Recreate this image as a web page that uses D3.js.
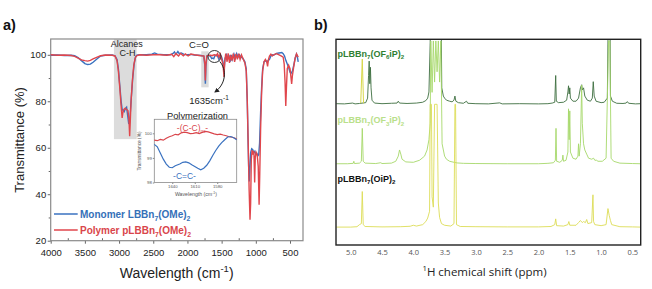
<!DOCTYPE html>
<html><head><meta charset="utf-8">
<script src="https://cdn.jsdelivr.net/npm/d3@7"></script>
<style>body{margin:0;background:#fff}svg{display:block}</style>
</head><body><svg id="c" width="652" height="289"></svg>
<script>
// ---------- Panel a: FTIR data ----------
const ftirXTicks = [4000,3500,3000,2500,2000,1500,1000,500];
const ftirYTicks = [20,40,60,80,100];
const ftirLegend = ["Monomer LBBn", "Polymer pLBBn"];
const monomerSpectrum = [
[4000,99.8],[3900,99.9],[3800,99.7],[3700,99.8],[3650,99.6],[3600,98.8],[3550,97.5],[3500,96.2],[3460,95.8],[3420,96.0],[3380,96.8],[3320,98.3],[3270,99.5],[3200,99.8],[3100,99.9],[3060,99.6],[3030,98],[3010,94],[2990,87],[2970,80],[2955,76.5],[2940,76],[2925,75.5],[2905,77],[2890,77.5],[2875,74],[2860,70.5],[2850,70.3],[2838,74],[2820,82],[2800,90],[2780,96],[2760,99],[2740,99.8],[2700,100],[2600,100],[2520,100.3],[2480,100.8],[2440,100.3],[2350,100],[2250,100],[2210,100.6],[2190,101.2],[2170,100.2],[2140,101.4],[2120,100.5],[2090,100.8],[2050,100.2],[2000,100],[1950,100.2],[1900,99.9],[1850,99.8],[1800,99.7],[1760,99.4],[1745,95],[1738,87.5],[1730,95],[1715,99.5],[1690,99.8],[1660,99.2],[1645,98.4],[1630,98.6],[1615,98.3],[1600,99.5],[1580,100],[1560,99.5],[1540,98],[1520,100],[1500,99],[1480,97],[1465,93],[1450,98.5],[1430,100],[1410,98],[1395,100],[1375,97],[1360,100],[1345,98],[1320,100.3],[1300,98.5],[1280,100.5],[1260,99],[1240,100],[1215,99],[1190,98.5],[1160,97],[1140,94],[1125,80],[1115,65],[1105,52],[1096,45.5],[1088,50],[1075,58],[1060,59.6],[1045,59.2],[1030,58],[1015,58.5],[1000,57],[985,57.5],[970,56.5],[958,57],[945,62],[930,75],[915,86],[900,94],[880,97],[860,97.5],[840,97],[820,97.5],[800,98],[780,99.5],[760,100],[740,99.8],[700,100.6],[660,100.8],[620,101],[600,100.5],[580,99.5],[560,97.5],[540,96],[520,94.5],[500,92.5],[485,92],[465,93],[445,95.5],[425,98.5],[405,100.3],[392,99],[380,97]
];
const polymerSpectrum = [
[4000,100],[3900,99.8],[3800,99.9],[3700,99.7],[3650,99.3],[3600,98.6],[3550,97.8],[3500,97.5],[3460,97.3],[3420,97.6],[3380,98.2],[3320,99],[3270,99.6],[3200,99.9],[3100,99.8],[3060,99.5],[3030,97.5],[3010,93],[2990,86],[2970,78],[2955,72.8],[2945,75],[2930,76.5],[2910,77],[2890,76.5],[2870,76],[2855,72],[2845,65],[2838,70],[2825,80],[2805,89],[2785,95.5],[2765,98.5],[2745,99.6],[2700,100],[2600,99.8],[2500,100],[2400,100],[2300,99.8],[2230,100.2],[2200,99.2],[2170,100.5],[2130,99.5],[2100,100.6],[2060,99.6],[2030,100.4],[1990,99.5],[1950,100.3],[1900,100],[1850,99.8],[1800,99.6],[1760,99.5],[1745,96],[1738,89],[1730,96],[1715,99.5],[1690,99.8],[1660,99.8],[1640,99.6],[1620,99.9],[1600,100],[1580,99.5],[1560,100.5],[1540,99],[1520,100.3],[1500,98],[1480,96],[1465,90.5],[1455,97],[1440,100.5],[1420,97],[1405,100.6],[1385,96.5],[1370,100],[1350,97.5],[1330,100.5],[1310,97],[1290,100.4],[1270,98],[1250,100.5],[1230,98],[1210,100],[1190,98.5],[1160,96.5],[1140,93],[1125,80],[1110,60],[1098,42],[1085,29],[1076,36],[1066,55],[1055,59],[1040,57],[1028,58.5],[1017,45],[1008,56],[995,58],[980,57],[965,52],[952,35.5],[943,48],[930,68],[915,84],[900,93],[880,97],[860,98],[840,97],[828,95],[815,98],[800,99.5],[780,100.3],[760,99.5],[740,100],[700,100.5],[660,100],[630,99.5],[600,99],[585,96],[572,88],[562,78],[552,86],[540,94],[520,95.5],[500,94],[485,90],[476,87.5],[465,91],[445,95],[425,98.5],[405,100.4],[390,99.6],[380,99]
];
const insetXTicks = [1640,1610,1580];
const insetYTicks = [98,99,100];
const insetMonomer = [[1664,99.55],[1660,99.45],[1656,99.2],[1652,98.95],[1648,98.75],[1644,98.62],[1640,98.6],[1636,98.68],[1630,98.75],[1626,98.82],[1622,98.84],[1618,98.8],[1614,98.72],[1610,98.65],[1606,98.58],[1602,98.52],[1598,98.58],[1594,98.7],[1590,98.88],[1586,99.1],[1582,99.3],[1578,99.48],[1574,99.62],[1570,99.74],[1566,99.85],[1562,99.87],[1558,99.82],[1554,99.74]];
const insetPolymer = [[1664,99.72],[1660,99.7],[1656,99.75],[1652,99.72],[1648,99.8],[1644,99.86],[1640,99.9],[1636,99.96],[1632,99.94],[1628,100.02],[1624,100.05],[1620,100.03],[1616,99.99],[1612,100.0],[1608,100.03],[1604,99.99],[1600,100.04],[1596,100.08],[1592,100.06],[1588,100.02],[1584,99.98],[1580,99.95],[1576,99.97],[1572,99.93],[1568,99.9],[1564,99.86],[1560,99.84],[1556,99.8],[1554,99.76]];
const alcaneBand = [3075, 2743, 63.7];
const carbonylBand = [1798, 1690, 86, 101.5];

// ---------- Panel b: NMR data ----------
const nmrTicks = [5.0,4.5,4.0,3.5,3.0,2.5,2.0,1.5,1.0,0.5];
const nmrOffsets = [68.4, 39.2, 8.4];
const nmrTop = [[5.23,0.3],[5.1,0.2],[4.97,0.6],[4.93,0.2],[4.86,0.4],[4.76,0.8],[4.73,3],[4.715,14],[4.705,21],[4.695,10],[4.685,18],[4.675,8],[4.66,2],[4.62,0.6],[4.5,0.3],[4.35,0.5],[4.26,0.6],[4.24,1.5],[4.22,0.6],[4.1,0.4],[3.95,0.6],[3.85,1],[3.8,1.8],[3.77,3],[3.75,6],[3.73,30],[3.72,60],[3.70,40],[3.68,60],[3.66,45],[3.64,60],[3.62,50],[3.60,60],[3.58,45],[3.56,60],[3.545,8],[3.52,4],[3.5,3],[3.47,2],[3.42,1.5],[3.38,1.2],[3.35,2],[3.335,4],[3.32,1.5],[3.28,0.8],[3.2,0.5],[3.15,1.5],[3.13,0.5],[3.0,0.3],[2.8,0.2],[2.62,0.7],[2.58,0.2],[2.3,0.3],[2.0,0.2],[1.85,0.3],[1.78,0.6],[1.74,1],[1.725,14],[1.715,1.5],[1.68,0.8],[1.6,1],[1.55,2],[1.53,6],[1.52,9],[1.51,5],[1.5,8],[1.49,3],[1.45,1.5],[1.4,1.5],[1.36,3],[1.33,8],[1.31,9.5],[1.3,7],[1.28,8],[1.26,4],[1.22,2],[1.17,1.5],[1.14,3],[1.125,11],[1.11,4],[1.08,1.5],[1.0,0.8],[0.95,1],[0.9,3],[0.88,60],[0.86,60],[0.85,4],[0.82,1.5],[0.75,0.5],[0.65,0.4],[0.6,0.6],[0.58,1.3],[0.56,0.5],[0.45,0.2],[0.37,0.3]];
const nmrTopYellow = [[4.84,0.5],[4.815,22],[4.795,0.5]];
const nmrMid = [[5.23,0.3],[5.05,0.3],[4.96,0.5],[4.95,1.5],[4.94,0.4],[4.86,0.6],[4.83,1.5],[4.815,17.5],[4.80,1.5],[4.77,0.6],[4.6,0.4],[4.52,0.8],[4.5,0.4],[4.35,0.6],[4.28,1.5],[4.24,4],[4.22,7],[4.2,5],[4.18,2.5],[4.12,1.2],[4.0,1],[3.9,2],[3.82,4],[3.78,7],[3.75,12],[3.73,20],[3.72,60],[3.70,35],[3.68,60],[3.66,40],[3.64,60],[3.62,45],[3.60,60],[3.58,40],[3.56,60],[3.54,10],[3.5,4],[3.47,2.5],[3.42,1.5],[3.35,1],[3.3,0.7],[3.2,0.5],[3.0,0.4],[2.5,0.3],[2.0,0.3],[1.85,0.5],[1.76,0.8],[1.73,2],[1.72,17.5],[1.71,1.5],[1.66,1],[1.62,2],[1.61,4.5],[1.6,1.5],[1.56,2],[1.53,6],[1.52,27],[1.51,12],[1.50,26],[1.49,6],[1.45,3],[1.40,2.5],[1.37,4],[1.36,10],[1.35,4],[1.33,10],[1.31,38.5],[1.30,20],[1.28,10],[1.26,7],[1.23,5],[1.2,3],[1.15,2.5],[1.12,3],[1.1,2],[1.07,2],[1.05,1.5],[0.98,1.5],[0.92,3],[0.88,60],[0.86,60],[0.84,3],[0.8,1.5],[0.7,0.6],[0.5,0.4],[0.37,0.3]];
const nmrBot = [[5.23,0.3],[5.0,0.3],[4.9,0.5],[4.86,1.5],[4.83,2],[4.815,17.6],[4.80,1.5],[4.77,0.6],[4.5,0.4],[4.2,0.5],[4.05,0.7],[4.0,1.2],[3.95,0.8],[3.85,1.5],[3.8,3],[3.77,4.7],[3.74,8],[3.73,60],[3.71,60],[3.70,15],[3.68,10],[3.66,60],[3.62,60],[3.6,12],[3.58,5],[3.55,2],[3.5,1.2],[3.4,0.8],[3.35,2],[3.335,60],[3.325,60],[3.31,1.5],[3.25,0.6],[3.0,0.5],[2.5,0.4],[2.0,0.4],[1.8,0.6],[1.74,1.5],[1.725,4.3],[1.71,1],[1.6,0.8],[1.53,1.5],[1.515,3],[1.5,1.2],[1.4,1.2],[1.36,2.5],[1.33,3.5],[1.3,2.5],[1.28,3],[1.25,2.5],[1.23,4],[1.21,2],[1.15,2.5],[1.13,16],[1.12,3],[1.1,1.5],[1.0,1],[0.92,1.5],[0.89,9.3],[0.87,6],[0.85,3.5],[0.83,1.5],[0.7,0.5],[0.5,0.4],[0.37,0.3]];

// ---------- helpers ----------
const svg = d3.select("#c");
function rich(g, x, y, parts, fs, attrs) {
  const t = g.append("text").attr("x", x).attr("y", y).attr("font-size", fs);
  Object.entries(attrs || {}).forEach(([k, v]) => t.attr(k, v));
  let prev = 0;
  parts.forEach(p => {
    const mode = Array.isArray(p) ? p[1] : 0, txt = Array.isArray(p) ? p[0] : p;
    const shift = mode === 1 ? fs * 0.3 : mode === -1 ? -fs * 0.42 : 0;
    const s = t.append("tspan").attr("dy", shift - prev).text(txt);
    if (mode) s.attr("font-size", fs * 0.68);
    prev = shift;
  });
  return t;
}
const intFmt = d3.format("d");

// ================= Panel a =================
const A = svg.append("g").attr("font-family", "Liberation Sans, Arial, sans-serif");
const x = d3.scaleLinear().domain([4000, 310]).range([50.7, 303]);
const y = d3.scaleLinear().domain([20, 106.8]).range([240.7, 39]);

A.append("rect").attr("x", x(alcaneBand[0])).attr("y", y(106.8))
  .attr("width", x(alcaneBand[1]) - x(alcaneBand[0])).attr("height", y(alcaneBand[2]) - y(106.8)).attr("fill", "#dcdcdc");
A.append("rect").attr("x", x(carbonylBand[0])).attr("y", y(carbonylBand[3]))
  .attr("width", x(carbonylBand[1]) - x(carbonylBand[0])).attr("height", y(carbonylBand[2]) - y(carbonylBand[3])).attr("fill", "#dcdcdc");

const xAx = A.append("g").attr("transform", "translate(0,240.7)")
  .call(d3.axisBottom(x).tickValues(ftirXTicks).tickSize(3).tickPadding(6).tickFormat(intFmt));
const xMin = A.append("g").attr("transform", "translate(0,240.7)")
  .call(d3.axisBottom(x).tickValues(ftirXTicks.slice(0,-1).map(v => v - 250)).tickSize(-2.5).tickFormat(""));
const yAx = A.append("g").attr("transform", "translate(50.7,0)")
  .call(d3.axisLeft(y).tickValues(ftirYTicks).tickSize(3).tickPadding(1.5).tickFormat(intFmt));
const yMin = A.append("g").attr("transform", "translate(50.7,0)")
  .call(d3.axisLeft(y).tickValues([30,50,70,90]).tickSize(2).tickFormat(""));
[xAx, xMin, yAx, yMin].forEach(g => { g.select(".domain").remove(); g.selectAll("line").attr("stroke", "#666"); });
[xAx, yAx].forEach(g => g.selectAll("text").attr("font-size", 9.5).attr("fill", "#222").attr("font-family", "Liberation Sans, Arial, sans-serif"));

A.append("rect").attr("x", 50.7).attr("y", 39).attr("width", 303 - 50.7).attr("height", 240.7 - 39)
  .attr("fill", "none").attr("stroke", "#8a8a8a").attr("stroke-width", 1.2);

const line = d3.line().x(d => x(d[0])).y(d => y(d[1]));
A.append("path").datum(monomerSpectrum).attr("d", line).attr("fill", "none").attr("stroke", "#3a72c0").attr("stroke-width", 1.4);
A.append("path").datum(polymerSpectrum).attr("d", line).attr("fill", "none").attr("stroke", "#e0464c").attr("stroke-width", 1.4);

// annotations
A.append("text").attr("x", 126.7).attr("y", 46.5).attr("text-anchor", "middle").attr("font-size", 9).attr("fill", "#222").text("Alcanes");
A.append("text").attr("x", 127.5).attr("y", 56).attr("text-anchor", "middle").attr("font-size", 9).attr("fill", "#222").text("C-H");
A.append("text").attr("x", 199).attr("y", 47.5).attr("text-anchor", "middle").attr("font-size", 9.5).attr("fill", "#222").text("C=O");
A.append("ellipse").attr("cx", 214.5).attr("cy", 56.5).attr("rx", 6.5).attr("ry", 6).attr("fill", "none").attr("stroke", "#222").attr("stroke-width", 0.9);
svg.append("defs").append("marker").attr("id", "ah").attr("viewBox", "0 0 10 10").attr("refX", 8).attr("refY", 5)
  .attr("markerWidth", 5).attr("markerHeight", 5).attr("orient", "auto")
  .append("path").attr("d", "M0,0L10,5L0,10z").attr("fill", "#222");
A.append("path").attr("d", "M219.8,61.5 C227,70 226,84 215,92").attr("fill", "none").attr("stroke", "#222").attr("stroke-width", 1).attr("marker-end", "url(#ah)");
rich(A, 209, 104, ["1635cm", ["-1", -1]], 9.5, {"text-anchor": "middle", fill: "#222"});
A.append("text").attr("x", 197.5).attr("y", 118.5).attr("text-anchor", "middle").attr("font-size", 9.3).attr("fill", "#222").text("Polymerization");

// inset
const I = A.append("g");
const xi = d3.scaleLinear().domain([1664, 1554]).range([154.3, 236.7]);
const yi = d3.scaleLinear().domain([98, 100.57]).range([182.5, 119.3]);
I.append("rect").attr("x", 154.3).attr("y", 119.3).attr("width", 236.7 - 154.3).attr("height", 182.5 - 119.3).attr("fill", "#fff").attr("stroke", "#8a8a8a").attr("stroke-width", 0.8);
const xiAx = I.append("g").attr("transform", "translate(0,182.5)").call(d3.axisBottom(xi).tickValues(insetXTicks).tickSize(1.5).tickPadding(1).tickFormat(intFmt));
const yiAx = I.append("g").attr("transform", "translate(154.3,0)").call(d3.axisLeft(yi).tickValues(insetYTicks).tickSize(1.5).tickPadding(1).tickFormat(intFmt));
[xiAx, yiAx].forEach(g => { g.select(".domain").remove(); g.selectAll("line").attr("stroke", "#888"); g.selectAll("text").attr("font-size", 4.3).attr("fill", "#555").attr("font-family", "Liberation Sans, Arial, sans-serif"); });
rich(I, 196, 196, ["Wavelength (cm", ["-1", -1], ")"], 5.2, {"text-anchor": "middle", fill: "#555"});
I.append("text").attr("transform", "translate(140.5,151) rotate(-90)").attr("text-anchor", "middle").attr("font-size", 4.8).attr("fill", "#555").text("Transmittance (%)");
const li = d3.line().x(d => xi(d[0])).y(d => yi(d[1]));
I.append("path").datum(insetPolymer).attr("d", li).attr("fill", "none").attr("stroke", "#d9454b").attr("stroke-width", 1.2);
I.append("path").datum(insetMonomer).attr("d", li).attr("fill", "none").attr("stroke", "#3a72c0").attr("stroke-width", 1.2);
rich(I, 192.5, 130.5, ["-(C-C)", ["m", 1], "-"], 8.5, {"text-anchor": "middle", fill: "#d9454b"});
I.append("text").attr("x", 184.5).attr("y", 178.8).attr("text-anchor", "middle").attr("font-size", 8.5).attr("fill", "#3a72c0").text("-C=C-");

// legend
A.append("line").attr("x1", 54).attr("x2", 77.7).attr("y1", 214).attr("y2", 214).attr("stroke", "#3a72c0").attr("stroke-width", 1.5);
A.append("line").attr("x1", 54).attr("x2", 77.7).attr("y1", 230).attr("y2", 230).attr("stroke", "#e0464c").attr("stroke-width", 1.5);
rich(A, 80, 217.5, [ftirLegend[0], ["7", 1], "(OMe)", ["2", 1]], 10, {fill: "#3470b8", "font-weight": "bold"});
rich(A, 80, 233.5, [ftirLegend[1], ["7", 1], "(OMe)", ["2", 1]], 10, {fill: "#d9454b", "font-weight": "bold"});

// titles
A.append("text").attr("transform", "translate(23.5,140) rotate(-90)").attr("text-anchor", "middle").attr("font-size", 13).attr("fill", "#222").text("Transmittance (%)");
rich(A, 176.7, 277.5, ["Wavelength (cm", ["-1", -1], ")"], 14, {"text-anchor": "middle", fill: "#222"});
A.append("text").attr("x", 3).attr("y", 30).attr("font-size", 14.5).attr("font-weight", "bold").attr("fill", "#111").text("a)");

// ================= Panel b =================
const B = svg.append("g");
const xb = d3.scaleLinear().domain([5.235, 0.367]).range([336, 640.7]);
const yb = d3.scaleLinear().domain([0, 100]).range([245, 39.3]);
svg.select("defs").append("clipPath").attr("id", "clipb").append("rect").attr("x", 336).attr("y", 39.3).attr("width", 640.7 - 336).attr("height", 245 - 39.3);
const P = B.append("g").attr("clip-path", "url(#clipb)");
function nline(off) { return d3.line().x(d => xb(d[0])).y(d => yb(d[1] + off)); }
P.append("path").datum(nmrTop).attr("d", nline(nmrOffsets[0])).attr("fill", "none").attr("stroke", "#3d6e3f").attr("stroke-width", 0.9);
P.append("path").datum(nmrTopYellow).attr("d", nline(nmrOffsets[0])).attr("fill", "none").attr("stroke", "#d8d84c").attr("stroke-width", 1);
P.append("path").datum(nmrMid).attr("d", nline(nmrOffsets[1])).attr("fill", "none").attr("stroke", "#a6d86a").attr("stroke-width", 0.9);
P.append("path").datum(nmrBot).attr("d", nline(nmrOffsets[2])).attr("fill", "none").attr("stroke", "#dcdc56").attr("stroke-width", 0.9);

B.append("rect").attr("x", 336).attr("y", 39.3).attr("width", 640.7 - 336).attr("height", 245 - 39.3)
  .attr("fill", "none").attr("stroke", "#222").attr("stroke-width", 1.4);
const xbAx = B.append("g").attr("transform", "translate(0,245)")
  .call(d3.axisBottom(xb).tickValues(nmrTicks).tickSize(0).tickPadding(5).tickFormat(d3.format(".1f")));
xbAx.select(".domain").remove();
xbAx.selectAll("text").attr("font-size", 7.5).attr("fill", "#555").attr("font-family", "Open Sans, sans-serif");
rich(B, 484.5, 275.5, [["1", -1], "H chemical shift (ppm)"], 11.5, {"text-anchor": "middle", fill: "#222", "font-family": "Open Sans, sans-serif"});

const lf = "Liberation Sans, Arial, sans-serif";
rich(B, 337.5, 56.5, ["pLBBn", ["7", 1], "(OF", ["6", 1], "iP)", ["2", 1]], 9, {fill: "#2f7f33", "font-weight": "bold", "font-family": lf});
rich(B, 337.5, 123, ["pLBBn", ["7", 1], "(OF", ["3", 1], "iP)", ["2", 1]], 9, {fill: "#b9e08a", "font-weight": "bold", "font-family": lf});
rich(B, 337.5, 181.5, ["pLBBn", ["7", 1], "(OiP)", ["2", 1]], 9, {fill: "#111", "font-weight": "bold", "font-family": lf});
B.append("text").attr("x", 314).attr("y", 30).attr("font-size", 14.5).attr("font-weight", "bold").attr("fill", "#111").attr("font-family", lf).text("b)");
</script></body></html>
